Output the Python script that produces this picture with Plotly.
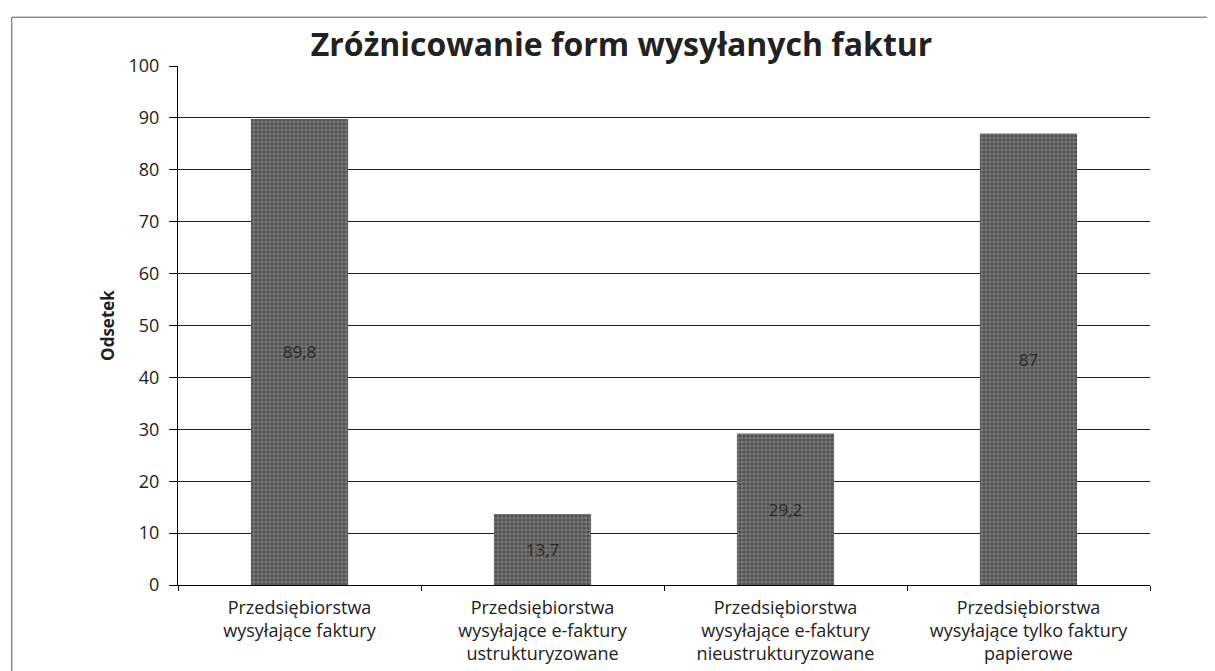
import plotly.graph_objects as go

# Data
categories = [
    "Przedsiębiorstwa<br>wysyłające faktury",
    "Przedsiębiorstwa<br>wysyłające e-faktury<br>ustrukturyzowane",
    "Przedsiębiorstwa<br>wysyłające e-faktury<br>nieustrukturyzowane",
    "Przedsiębiorstwa<br>wysyłające tylko faktury<br>papierowe",
]
values = [89.8, 13.7, 29.2, 87]
labels = ["89,8", "13,7", "29,2", "87"]
y_ticks = list(range(0, 101, 10))

fig = go.Figure()

fig.add_trace(go.Bar(
    x=categories,
    y=values,
    text=labels,
    textposition="inside",
    insidetextanchor="middle",
    textangle=0,
    textfont=dict(size=17, color="#2a2a2a", family="Open Sans"),
    marker=dict(
        color="#646464",
        line=dict(width=0),
        pattern=dict(shape=".", fgcolor="#2a2a2a", bgcolor="#767676",
                     size=4, solidity=0.5, fillmode="overlay"),
    ),
    showlegend=False,
))

# page body has an 8px margin, so margins are shifted by 8px
fig.update_layout(
    width=1215,
    height=671,
    margin=dict(l=170, r=73, t=58, b=94),
    paper_bgcolor="white",
    plot_bgcolor="white",
    bargap=0.6,
    font=dict(family="Open Sans", size=18, color="#222222"),
    title=dict(
        text="<b>Zróżnicowanie form wysyłanych faktur</b>",
        x=0.505, xanchor="center",
        y=0.945, yanchor="middle",
        font=dict(size=32, color="#222222", family="Open Sans"),
    ),
    xaxis=dict(
        showline=True, linecolor="black", linewidth=1,
        ticks="outside", tickson="boundaries", ticklen=5, tickcolor="black",
        ticklabelstandoff=6,
        tickfont=dict(size=18),
    ),
    yaxis=dict(
        range=[0, 100],
        tickvals=y_ticks,
        showgrid=True, gridcolor="#222222", gridwidth=1,
        showline=True, linecolor="black", linewidth=1,
        ticks="outside", ticklen=8, tickcolor="black",
        ticklabelstandoff=6,
        tickfont=dict(size=18),
        title=dict(text="<b>Odsetek</b>", font=dict(size=17), standoff=9),
    ),
)

# Outer chart border (Excel chart area)
fig.add_shape(
    type="rect", xref="paper", yref="paper",
    x0=-0.171, x1=1.064, y0=-0.2, y1=1.094,
    line=dict(color="#555555", width=1),
)

fig.write_html("out.html")
